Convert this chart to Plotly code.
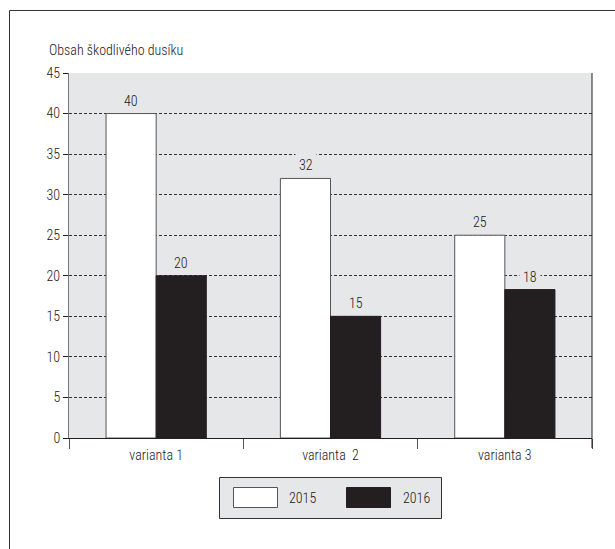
import plotly.graph_objects as go

categories = ["varianta 1", "varianta \u00a02", "varianta 3"]
values_2015 = [40, 32, 25]
values_2016 = [20, 15, 18.3]
labels_2015 = ["40", "32", "25"]
labels_2016 = ["20", "15", "18"]
series_names = ["2015", "2016"]
y_ticks = [0, 5, 10, 15, 20, 25, 30, 35, 40, 45]

FONT = "Roboto Condensed, Arial Narrow, sans-serif"
FS = 14
WT = 300
INK = "#1a1718"
BG = "#e6e7e8"
DARK = "#231f20"

def f(size=FS):
    return dict(family=FONT, size=size, color=INK, weight=WT)

fig = go.Figure()
fig.add_trace(go.Bar(
    x=categories, y=values_2015, name=series_names[0],
    marker=dict(color="white", line=dict(color="#555555", width=1)),
))
fig.add_trace(go.Bar(
    x=categories, y=values_2016, name=series_names[1],
    marker=dict(color=DARK, line=dict(color=DARK, width=1)),
))

W, H = 615, 549
L, R, T, B = 69, 23, 73, 111
pw, ph = W - L - R, H - T - B

def px(x):
    return (x - L) / pw

def py(y):
    return (H - B - y) / ph

shapes = [
    dict(type="rect", xref="paper", yref="paper", x0=px(9.5), x1=px(630), y0=py(10.5), y1=py(600),
         line=dict(color="#333333", width=1), fillcolor="rgba(0,0,0,0)", layer="below"),
    dict(type="line", xref="paper", yref="paper", x0=1, x1=1, y0=py(448), y1=1,
         line=dict(color=DARK, width=1)),
    dict(type="rect", xref="paper", yref="paper", x0=px(219.5), x1=px(441.5), y0=py(477.5), y1=py(518.5),
         line=dict(color="#333333", width=1), fillcolor=BG),
    dict(type="rect", xref="paper", yref="paper", x0=px(233.5), x1=px(277.5), y0=py(487.5), y1=py(507.5),
         line=dict(color="#555555", width=1), fillcolor="white"),
    dict(type="rect", xref="paper", yref="paper", x0=px(346.5), x1=px(390.5), y0=py(487.5), y1=py(507.5),
         line=dict(color=DARK, width=1), fillcolor=DARK),
]

annotations = [
    dict(text="Obsah škodlivého dusíku", xref="paper", yref="paper", x=px(47), y=py(50),
         xanchor="left", yanchor="middle", showarrow=False, font=f()),
    dict(text=series_names[0], xref="paper", yref="paper", x=px(287), y=py(497.5),
         xanchor="left", yanchor="middle", showarrow=False, font=f()),
    dict(text=series_names[1], xref="paper", yref="paper", x=px(401), y=py(497.5),
         xanchor="left", yanchor="middle", showarrow=False, font=f()),
]

# value labels above bars
for vals, labs, shift in ((values_2015, labels_2015, -25), (values_2016, labels_2016, 25)):
    for c, v, t in zip(categories, vals, labs):
        annotations.append(dict(
            text=t, x=c, y=v, xref="x", yref="y", xshift=shift, yshift=1,
            xanchor="center", yanchor="bottom", showarrow=False,
            bgcolor=BG, borderpad=3, font=f(),
        ))

fig.update_layout(
    width=W, height=H,
    margin=dict(l=L, r=R, t=T, b=B),
    paper_bgcolor="white", plot_bgcolor=BG,
    barmode="group", bargap=0.425, bargroupgap=0,
    showlegend=False,
    font=f(),
    shapes=shapes, annotations=annotations,
)
fig.update_xaxes(
    showline=True, linecolor=DARK, linewidth=1,
    ticks="outside", tickson="boundaries", ticklen=10, tickcolor="#555555",
    ticklabelstandoff=4,
    tickfont=f(), showgrid=False,
)
fig.update_yaxes(
    range=[0, 45], tickvals=y_ticks,
    showline=True, linecolor="#777777", linewidth=1,
    ticks="outside", ticklen=5, tickcolor=DARK,
    showgrid=True, gridcolor="#333333", gridwidth=1, griddash="3px,2px",
    zeroline=False, tickfont=f(),
)

fig.write_html("out.html")
